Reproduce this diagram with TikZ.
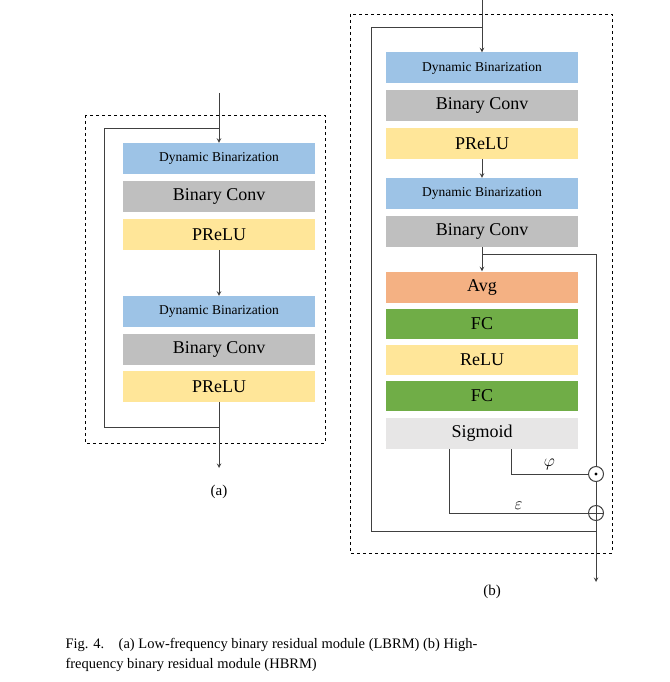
\documentclass[tikz,border=0pt]{standalone}
\usepackage{fontspec}
\setmainfont{Liberation Serif}
\usetikzlibrary{positioning}
\definecolor{dbblue}{HTML}{9DC3E6}
\definecolor{convgray}{HTML}{BFBFBF}
\definecolor{reluyel}{HTML}{FFE699}
\definecolor{avgorange}{HTML}{F4B183}
\definecolor{fcgreen}{HTML}{70AD47}
\definecolor{siggray}{HTML}{E7E6E6}
\tikzset{
  blk/.style={minimum width=192pt,minimum height=31pt,inner sep=0pt,font=\fontsize{18}{18}\selectfont},
  db/.style={blk,fill=dbblue,font=\fontsize{13.5}{14}\selectfont},
  conv/.style={blk,fill=convgray},
  prelu/.style={blk,fill=reluyel},
  line/.style={draw=black!75,line width=1pt},
  arr/.style={line,-stealth}
}
\begin{document}
\begin{tikzpicture}[x=1pt,y=-1pt]
\useasboundingbox (0,0) rectangle (669,682);
% (a) LBRM
\draw[dashed,line width=0.8pt] (85,115) rectangle (325,443);
\node[db] (adb1) at (219,158.5) {Dynamic Binarization};
\node[conv] (aconv1) at (219,196.5) {Binary Conv};
\node[prelu] (apr1) at (219,234.5) {PReLU};
\node[db] (adb2) at (219,311.5) {Dynamic Binarization};
\node[conv] (aconv2) at (219,349.5) {Binary Conv};
\node[prelu] (apr2) at (219,386.5) {PReLU};
\coordinate (ain) at (219,93);
\coordinate (aout) at (219,468);
\draw[arr] (ain) -- (adb1.north);
\draw[arr] (apr1.south) -- (adb2.north);
\draw[arr] (apr2.south) -- (aout);
\draw[line] (219,128) -| (104,427) -- (219,427);
\node at (219,492) {\fontsize{15}{15}\selectfont (a)};
% (b) HBRM
\draw[dashed,line width=0.8pt] (350,14) rectangle (612,553);
\node[db] (bdb1) at (482,68) {Dynamic Binarization};
\node[conv] (bconv1) at (482,105.5) {Binary Conv};
\node[prelu] (bpr1) at (482,143.5) {PReLU};
\node[db] (bdb2) at (482,193.5) {Dynamic Binarization};
\node[conv] (bconv2) at (482,231.5) {Binary Conv};
\node[blk,fill=avgorange] (avg) at (482,287) {Avg};
\node[blk,fill=fcgreen,minimum height=30pt] (fc1) at (482,324) {FC};
\node[blk,fill=reluyel,minimum height=30pt] (relu) at (482,360) {ReLU};
\node[blk,fill=fcgreen,minimum height=30pt] (fc2) at (482,396) {FC};
\node[blk,fill=siggray] (sig) at (482,433.5) {Sigmoid};
\node[circle,draw=black!75,line width=1pt,minimum size=15pt,inner sep=0pt] (mul) at (596,474) {};
\fill (mul) circle (1.6pt);
\node[circle,draw=black!75,line width=1pt,minimum size=15pt,inner sep=0pt] (add) at (596,513) {};
\draw[line] (add.north) -- (add.south) (add.west) -- (add.east);
\coordinate (bin) at (482,0);
\coordinate (bout) at (596,582);
\draw[arr] (bin) -- (bdb1.north);
\draw[arr] (bpr1.south) -- (bdb2.north);
\draw[arr] (bconv2.south) -- (avg.north);
\draw[line] (482,28) -| (371,531) -- (596,531);
\draw[line] (482,254) -| (mul.north);
\draw[line] (511,449) |- node[above,pos=0.75] {\fontsize{16}{16}\selectfont$\varphi$} (mul.west);
\draw[line] (449,449) |- node[above,pos=0.75] {\fontsize{16}{16}\selectfont$\varepsilon$} (add.west);
\draw[line] (mul.south) -- (add.north);
\draw[arr] (add.south) -- (bout);
\node at (492,592) {\fontsize{15}{15}\selectfont (b)};
% caption
\node[anchor=west,align=left,font=\fontsize{14.5}{20}\selectfont] at (62,655)
  {Fig. 4.\quad (a) Low-frequency binary residual module (LBRM) (b) High-\\frequency binary residual module (HBRM)};
\end{tikzpicture}
\end{document}
